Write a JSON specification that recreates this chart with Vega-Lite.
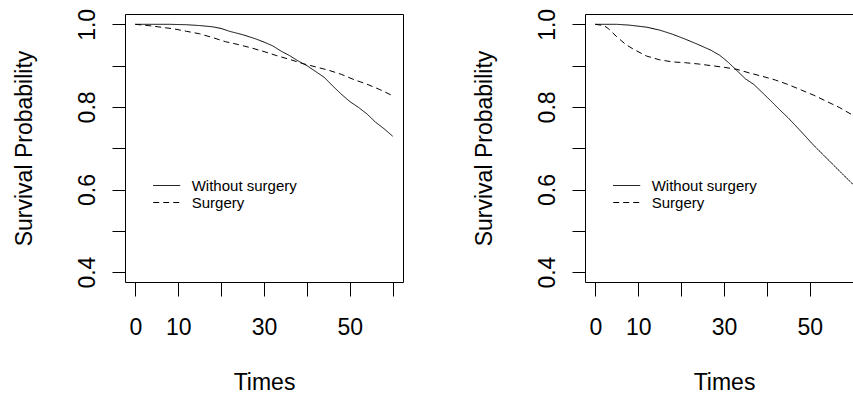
{
  "$schema": "https://vega.github.io/schema/vega-lite/v6.json",
  "padding": {"left": 12, "top": 7, "right": 0, "bottom": 0},
  "background": "white",
  "bounds": "flush",
  "spacing": 182,
  "config": {
    "font": "Liberation Sans",
    "view": {"stroke": "black", "strokeWidth": 1},
    "axis": {
      "grid": false,
      "domain": false,
      "tickColor": "black",
      "tickWidth": 1,
      "labelColor": "black",
      "titleColor": "black",
      "labelFontSize": 23,
      "titleFontSize": 23,
      "titleFontWeight": "normal",
      "labelOverlap": false,
      "labelFlush": false,
      "labelBound": false
    },
    "legend": {
      "orient": "none",
      "title": null,
      "symbolType": "stroke",
      "symbolSize": 729,
      "symbolStrokeWidth": 1,
      "symbolStrokeColor": "black",
      "labelFontSize": 15,
      "labelColor": "black",
      "labelOffset": 11,
      "labelBaseline": "middle",
      "clipHeight": 17,
      "rowPadding": 0,
      "padding": 0
    }
  },
  "resolve": {"scale": {"strokeDash": "independent"}, "legend": {"strokeDash": "independent"}},
  "hconcat": [
    {
      "width": 278,
      "height": 268,
      "data": {"values": [
        {"time": 0, "surv": 1.0, "group": "Without surgery"},
        {"time": 4, "surv": 1.0, "group": "Without surgery"},
        {"time": 8, "surv": 1.0, "group": "Without surgery"},
        {"time": 12, "surv": 0.999, "group": "Without surgery"},
        {"time": 15, "surv": 0.997, "group": "Without surgery"},
        {"time": 18, "surv": 0.994, "group": "Without surgery"},
        {"time": 20, "surv": 0.99, "group": "Without surgery"},
        {"time": 22, "surv": 0.983, "group": "Without surgery"},
        {"time": 25, "surv": 0.975, "group": "Without surgery"},
        {"time": 28, "surv": 0.965, "group": "Without surgery"},
        {"time": 30, "surv": 0.957, "group": "Without surgery"},
        {"time": 32, "surv": 0.948, "group": "Without surgery"},
        {"time": 34, "surv": 0.935, "group": "Without surgery"},
        {"time": 36, "surv": 0.924, "group": "Without surgery"},
        {"time": 38, "surv": 0.911, "group": "Without surgery"},
        {"time": 40, "surv": 0.9, "group": "Without surgery"},
        {"time": 42, "surv": 0.886, "group": "Without surgery"},
        {"time": 44, "surv": 0.872, "group": "Without surgery"},
        {"time": 46, "surv": 0.851, "group": "Without surgery"},
        {"time": 48, "surv": 0.831, "group": "Without surgery"},
        {"time": 50, "surv": 0.813, "group": "Without surgery"},
        {"time": 52, "surv": 0.799, "group": "Without surgery"},
        {"time": 54, "surv": 0.783, "group": "Without surgery"},
        {"time": 56, "surv": 0.763, "group": "Without surgery"},
        {"time": 58, "surv": 0.747, "group": "Without surgery"},
        {"time": 60, "surv": 0.729, "group": "Without surgery"},
        {"time": 0, "surv": 1.0, "group": "Surgery"},
        {"time": 3, "surv": 0.997, "group": "Surgery"},
        {"time": 6, "surv": 0.993, "group": "Surgery"},
        {"time": 9, "surv": 0.989, "group": "Surgery"},
        {"time": 12, "surv": 0.983, "group": "Surgery"},
        {"time": 15, "surv": 0.977, "group": "Surgery"},
        {"time": 18, "surv": 0.968, "group": "Surgery"},
        {"time": 21, "surv": 0.958, "group": "Surgery"},
        {"time": 24, "surv": 0.951, "group": "Surgery"},
        {"time": 27, "surv": 0.943, "group": "Surgery"},
        {"time": 30, "surv": 0.934, "group": "Surgery"},
        {"time": 33, "surv": 0.924, "group": "Surgery"},
        {"time": 36, "surv": 0.915, "group": "Surgery"},
        {"time": 39, "surv": 0.905, "group": "Surgery"},
        {"time": 42, "surv": 0.897, "group": "Surgery"},
        {"time": 45, "surv": 0.889, "group": "Surgery"},
        {"time": 48, "surv": 0.879, "group": "Surgery"},
        {"time": 51, "surv": 0.866, "group": "Surgery"},
        {"time": 54, "surv": 0.855, "group": "Surgery"},
        {"time": 57, "surv": 0.842, "group": "Surgery"},
        {"time": 60, "surv": 0.827, "group": "Surgery"}
      ]},
      "mark": {"type": "line", "color": "black", "strokeWidth": 1},
      "encoding": {
        "x": {
          "field": "time", "type": "quantitative",
          "scale": {"domain": [-2.4, 62.4], "nice": false, "zero": false},
          "axis": {
            "values": [0, 10, 20, 30, 40, 50, 60],
            "labelExpr": "datum.value == 20 || datum.value == 40 || datum.value == 60 ? '' : datum.label",
            "title": "Times", "tickSize": 14, "labelPadding": 20, "titlePadding": 32
          }
        },
        "y": {
          "field": "surv", "type": "quantitative",
          "scale": {"domain": [0.376, 1.025], "nice": false, "zero": false},
          "axis": {
            "values": [0.4, 0.5, 0.6, 0.7, 0.8, 0.9, 1.0],
            "format": ".1f",
            "labelExpr": "round(datum.value * 10) % 2 == 0 ? datum.label : ''",
            "labelAngle": 270, "labelAlign": "center", "labelBaseline": "bottom",
            "title": "Survival Probability", "tickSize": 13, "labelPadding": 13, "titlePadding": 40
          }
        },
        "strokeDash": {
          "field": "group", "type": "nominal",
          "scale": {"domain": ["Without surgery", "Surgery"], "range": [[1, 0], [6, 4]]},
          "legend": {"legendX": 27.7, "legendY": 163}
        }
      }
    },
    {
      "width": 278,
      "height": 268,
      "data": {"values": [
        {"time": 0, "surv": 1.0, "group": "Without surgery"},
        {"time": 5, "surv": 1.0, "group": "Without surgery"},
        {"time": 8, "surv": 0.998, "group": "Without surgery"},
        {"time": 12, "surv": 0.993, "group": "Without surgery"},
        {"time": 15, "surv": 0.986, "group": "Without surgery"},
        {"time": 18, "surv": 0.976, "group": "Without surgery"},
        {"time": 21, "surv": 0.964, "group": "Without surgery"},
        {"time": 24, "surv": 0.951, "group": "Without surgery"},
        {"time": 27, "surv": 0.937, "group": "Without surgery"},
        {"time": 29, "surv": 0.925, "group": "Without surgery"},
        {"time": 31, "surv": 0.908, "group": "Without surgery"},
        {"time": 33, "surv": 0.888, "group": "Without surgery"},
        {"time": 35, "surv": 0.868, "group": "Without surgery"},
        {"time": 37, "surv": 0.854, "group": "Without surgery"},
        {"time": 40, "surv": 0.824, "group": "Without surgery"},
        {"time": 43, "surv": 0.793, "group": "Without surgery"},
        {"time": 45, "surv": 0.773, "group": "Without surgery"},
        {"time": 48, "surv": 0.74, "group": "Without surgery"},
        {"time": 51, "surv": 0.706, "group": "Without surgery"},
        {"time": 54, "surv": 0.675, "group": "Without surgery"},
        {"time": 57, "surv": 0.644, "group": "Without surgery"},
        {"time": 60, "surv": 0.613, "group": "Without surgery"},
        {"time": 0, "surv": 1.0, "group": "Surgery"},
        {"time": 2, "surv": 0.997, "group": "Surgery"},
        {"time": 3, "surv": 0.99, "group": "Surgery"},
        {"time": 5, "surv": 0.97, "group": "Surgery"},
        {"time": 7, "surv": 0.952, "group": "Surgery"},
        {"time": 9, "surv": 0.939, "group": "Surgery"},
        {"time": 12, "surv": 0.923, "group": "Surgery"},
        {"time": 15, "surv": 0.914, "group": "Surgery"},
        {"time": 18, "surv": 0.909, "group": "Surgery"},
        {"time": 21, "surv": 0.907, "group": "Surgery"},
        {"time": 24, "surv": 0.904, "group": "Surgery"},
        {"time": 27, "surv": 0.9, "group": "Surgery"},
        {"time": 30, "surv": 0.896, "group": "Surgery"},
        {"time": 33, "surv": 0.891, "group": "Surgery"},
        {"time": 36, "surv": 0.882, "group": "Surgery"},
        {"time": 39, "surv": 0.874, "group": "Surgery"},
        {"time": 42, "surv": 0.865, "group": "Surgery"},
        {"time": 45, "surv": 0.854, "group": "Surgery"},
        {"time": 48, "surv": 0.841, "group": "Surgery"},
        {"time": 51, "surv": 0.828, "group": "Surgery"},
        {"time": 54, "surv": 0.813, "group": "Surgery"},
        {"time": 57, "surv": 0.798, "group": "Surgery"},
        {"time": 60, "surv": 0.78, "group": "Surgery"}
      ]},
      "mark": {"type": "line", "color": "black", "strokeWidth": 1},
      "encoding": {
        "x": {
          "field": "time", "type": "quantitative",
          "scale": {"domain": [-2.4, 62.4], "nice": false, "zero": false},
          "axis": {
            "values": [0, 10, 20, 30, 40, 50, 60],
            "labelExpr": "datum.value == 20 || datum.value == 40 || datum.value == 60 ? '' : datum.label",
            "title": "Times", "tickSize": 14, "labelPadding": 20, "titlePadding": 32
          }
        },
        "y": {
          "field": "surv", "type": "quantitative",
          "scale": {"domain": [0.376, 1.025], "nice": false, "zero": false},
          "axis": {
            "values": [0.4, 0.5, 0.6, 0.7, 0.8, 0.9, 1.0],
            "format": ".1f",
            "labelExpr": "round(datum.value * 10) % 2 == 0 ? datum.label : ''",
            "labelAngle": 270, "labelAlign": "center", "labelBaseline": "bottom",
            "title": "Survival Probability", "tickSize": 13, "labelPadding": 13, "titlePadding": 40
          }
        },
        "strokeDash": {
          "field": "group", "type": "nominal",
          "scale": {"domain": ["Without surgery", "Surgery"], "range": [[1, 0], [6, 4]]},
          "legend": {"legendX": 27.7, "legendY": 163}
        }
      }
    }
  ]
}
